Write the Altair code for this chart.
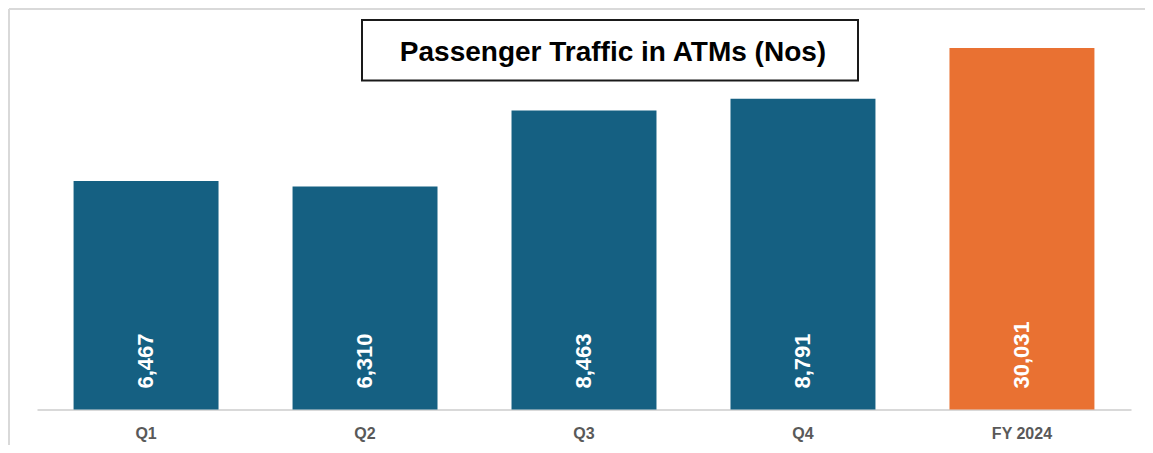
import altair as alt
import pandas as pd

# ---- data ----
quarters = ["Q1", "Q2", "Q3", "Q4"]
quarter_values = [6467, 6310, 8463, 8791]
total_label = ["FY 2024"]
total_value = [30031]
all_categories = quarters + total_label
title_text = "Passenger Traffic in ATMs (Nos)"

BLUE = "#156082"
ORANGE = "#E97132"
FONT = "Liberation Sans"

W, H = 1094, 388

q_df = pd.DataFrame({"cat": quarters, "value": quarter_values})
fy_df = pd.DataFrame({"cat": total_label, "value": total_value})
one = pd.DataFrame({"t": [title_text]})

x_enc = alt.X(
    "cat:N",
    sort=all_categories,
    scale=alt.Scale(domain=all_categories, paddingInner=0.338, paddingOuter=0.167),
    axis=alt.Axis(
        title=None, labelAngle=0, labelFontSize=16, labelFontWeight="bold",
        labelColor="#595959", labelFont=FONT, domainColor="#d9d9d9",
        domainWidth=2, ticks=False, labelPadding=16,
    ),
)


def group(df, color, ymax):
    yscale = alt.Scale(domain=[0, ymax], nice=False)
    base = alt.Chart(df)
    bars = base.mark_bar(color=color).encode(
        x=x_enc, y=alt.Y("value:Q", scale=yscale, axis=None)
    )
    labels = base.transform_calculate(base0="0").mark_text(
        angle=270, align="left", baseline="middle", dx=21,
        font=FONT, fontSize=22, fontWeight="bold", color="white",
    ).encode(
        x=x_enc,
        y=alt.Y("base0:Q", scale=yscale, axis=None),
        text=alt.Text("value:Q", format=","),
    )
    return alt.layer(bars, labels)


q_chart = group(q_df, BLUE, 10980)
fy_chart = group(fy_df, ORANGE, 32230)

frame_left = alt.Chart(one).mark_rule(color="#d9d9d9", strokeWidth=2).encode(
    x=alt.value(-28), y=alt.value(-12.5), y2=alt.value(440)
)
frame_top = alt.Chart(one).mark_rule(color="#d9d9d9", strokeWidth=2).encode(
    x=alt.value(-28), x2=alt.value(1140), y=alt.value(-12.5)
)
title_box = alt.Chart(one).mark_rect(
    fill="white", stroke="#1a1a1a", strokeWidth=2
).encode(
    x=alt.value(325), x2=alt.value(821), y=alt.value(-1.5), y2=alt.value(59)
)
title = alt.Chart(one).mark_text(
    font=FONT, fontSize=28, fontWeight="bold", color="black",
    align="center", baseline="alphabetic",
).encode(x=alt.value(576), y=alt.value(39.5), text="t:N")

chart = (
    alt.layer(frame_left, frame_top, q_chart, fy_chart, title_box, title)
    .resolve_scale(y="independent")
    .properties(
        width=W, height=H,
        autosize=alt.AutoSizeParams(type="none"),
        padding={"left": 29, "top": 13.5, "right": 14, "bottom": 35.5},
    )
    .configure_view(stroke=None)
)

chart.save("out.html", embed_options={"renderer": "svg", "actions": False})
